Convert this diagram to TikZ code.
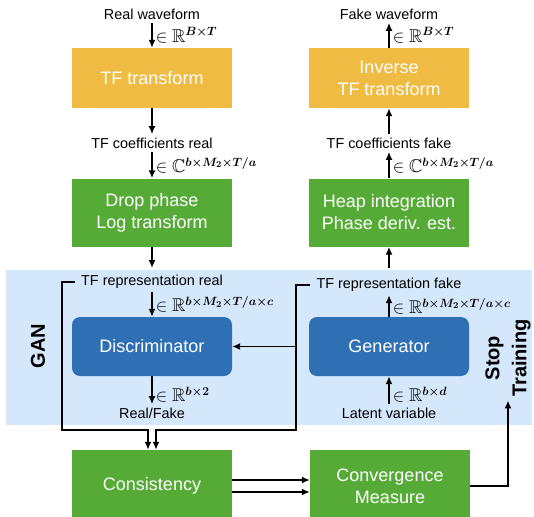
\documentclass[tikz,border=0pt]{standalone}
\usepackage[no-math]{fontspec}
\setmainfont{Liberation Sans}
\usepackage{amsmath}
\usepackage{amssymb}
\usepackage{bm}
\usepackage{xcolor}
\usepackage{tikz}
\usetikzlibrary{arrows.meta}

\definecolor{tforange}{HTML}{EFBB42}
\definecolor{tfgreen}{HTML}{56AB36}
\definecolor{netblue}{HTML}{2F70B5}
\definecolor{ganbg}{HTML}{D4E7FB}

\begin{document}
\begin{tikzpicture}[
    x=1pt,
    y=-1pt,
    font=\fontsize{14.4}{16}\selectfont,
    box/.style={text=white,minimum width=160pt,align=center,font=\fontsize{18}{22}\selectfont},
    orangebox/.style={box,fill=tforange,minimum height=60pt},
    greenbox/.style={box,fill=tfgreen,minimum height=68pt},
    netbox/.style={box,fill=netblue,rounded corners=8pt,minimum height=59pt},
    dim/.style={anchor=west,inner sep=0pt,xshift=3pt,font=\fontsize{18.5}{20}\selectfont},
    arr/.style={-{Latex[length=8pt,width=7pt]},line width=1.6pt},
    side/.style={rotate=90,align=center,font=\bfseries\fontsize{20}{27}\selectfont}
]
\useasboundingbox (0,0) rectangle (534,516);
\fill[ganbg] (6,270) rectangle (532,425);

% analysis side
\node (realwav) at (152,14) {Real waveform};
\node[orangebox] (tf) at (152,78) {TF transform};
\node (coefreal) at (152,143) {TF coefficients real};
\node[greenbox] (drop) at (152,212.5) {Drop phase\\Log transform};
\coordinate (ganin) at (152,268);
\draw[arr] (realwav.south) -- node[dim]{$\in\mathbb{R}^{\bm{B\times T}}$} (tf.north);
\draw[arr] (tf.south) -- (coefreal.north);
\draw[arr] (coefreal.south) -- node[dim]{$\in\mathbb{C}^{\bm{b\times M_2\times T/a}}$} (drop.north);
\draw[arr] (drop.south) -- (ganin);

% synthesis side
\node (fakewav) at (389,14) {Fake waveform};
\node[orangebox] (itf) at (389,78) {Inverse\\TF transform};
\node (coeffake) at (389,143) {TF coefficients fake};
\node[greenbox] (heap) at (389,212.5) {Heap integration\\Phase deriv. est.};
\coordinate (ganout) at (389,268);
\draw[arr] (itf.north) -- node[dim]{$\in\mathbb{R}^{\bm{B\times T}}$} (fakewav.south);
\draw[arr] (coeffake.north) -- (itf.south);
\draw[arr] (heap.north) -- node[dim]{$\in\mathbb{C}^{\bm{b\times M_2\times T/a}}$} (coeffake.south);
\draw[arr] (ganout) -- (heap.south);

% GAN
\node[side] (gan) at (38,346) {GAN};
\node (reprreal) at (152,282) {TF representation real};
\node[netbox] (disc) at (152,346.5) {Discriminator};
\node (realfake) at (152,413) {Real/Fake};
\node (reprfake) at (389,285) {TF representation fake};
\node[netbox] (gen) at (389,346.5) {Generator};
\node (latent) at (389,413) {Latent variable};
\draw[arr] (reprreal.south) -- node[dim]{$\in\mathbb{R}^{\bm{b\times M_2\times T/a\times c}}$} (disc.north);
\draw[arr] (disc.south) -- node[dim,pos=0.65]{$\in\mathbb{R}^{\bm{b\times 2}}$} (realfake.north);
\draw[arr] (gen.north) -- node[dim]{$\in\mathbb{R}^{\bm{b\times M_2\times T/a\times c}}$} (reprfake.south);
\draw[arr] (latent.north) -- node[dim,pos=0.35]{$\in\mathbb{R}^{\bm{b\times d}}$} (gen.south);
\coordinate (split) at (296,346.5);
\draw[arr] (split) -- (disc.east);

% checks
\node[greenbox,minimum height=72pt] (cons) at (152,486) {Consistency};
\node[greenbox,minimum height=72pt] (conv) at (390,486) {Convergence\\Measure};
\node[side] (stop) at (508,358) {Stop\\Training};
\draw[arr] ([xshift=-3pt]reprreal.west) -| (62,430) -| ([xshift=-4pt]cons.north);
\draw[arr] ([xshift=-3pt]reprfake.west) -| (296,430) -| ([xshift=4pt]cons.north);
\draw[arr] ([yshift=6pt]cons.east) -- ([yshift=6pt]conv.west);
\draw[arr] ([yshift=-6pt]cons.east) -- ([yshift=-6pt]conv.west);
\draw[arr] (conv.east) -| (stop.west);
\end{tikzpicture}
\end{document}
